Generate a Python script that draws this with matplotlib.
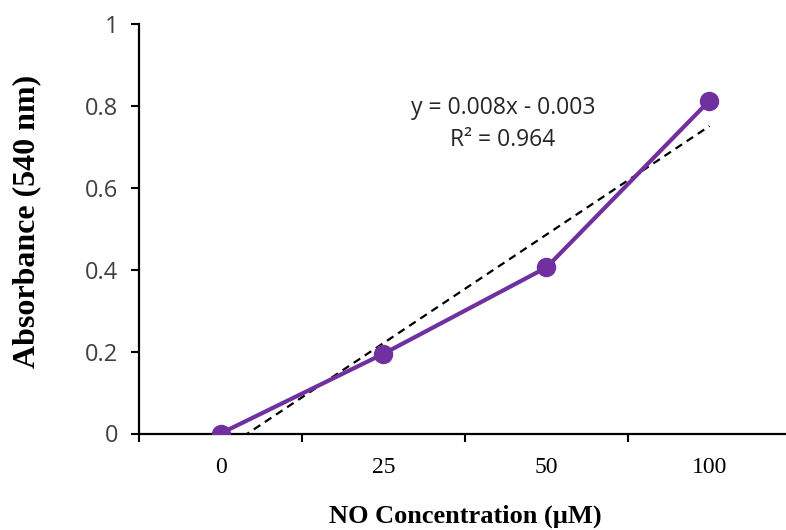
import numpy as np
import matplotlib
matplotlib.use('Agg')
import matplotlib.pyplot as plt

# data
conc_labels = ['0', '25', '50', '100']
absorbance = [0.0, 0.195, 0.406, 0.814]
eq_text = 'y = 0.008x - 0.003'
r2_text = 'R\u00b2 = 0.964'

purple = '#7030A0'
W, H = 786, 530

fig = plt.figure(figsize=(W / 100, H / 100), dpi=100)
ax = fig.add_axes([139 / W, 1 - 433.5 / H, (791 - 139) / W, (433.5 - 24.5) / H])

xpos = np.arange(1, len(conc_labels) + 1)

# linear trendline over category positions (like excel does for a line chart)
k, b = np.polyfit(xpos, absorbance, 1)
tx = np.array([xpos[0], xpos[-1]])
ax.plot(tx, k * tx + b, color='black', lw=1.6, ls=(0, (3.5, 2.5)), zorder=2)

ax.plot(xpos, absorbance, color=purple, lw=3, marker='o', ms=13, zorder=3)

ax.set_xlim(0.5, 4.5)
ax.set_ylim(0, 1)

ax.set_xticks(xpos)
ax.set_xticklabels(conc_labels, fontfamily='Liberation Serif', fontsize=17)
ax.set_xticks(np.arange(0.5, 4.6, 1), minor=True)
ax.tick_params(axis='x', which='major', length=0, pad=17)
ax.tick_params(axis='x', which='minor', length=6, width=1.5, direction='out', color='black')

ax.set_yticks([0, 0.2, 0.4, 0.6, 0.8, 1])
ax.set_yticklabels(['0', '0.2', '0.4', '0.6', '0.8', '1'], fontfamily='Open Sans', fontsize=17, color='#404040')
ax.tick_params(axis='y', length=6, width=1.5, pad=9, color='black')

for s in ['top', 'right']:
    ax.spines[s].set_visible(False)
for s in ['left', 'bottom']:
    ax.spines[s].set_linewidth(1.6)
    ax.spines[s].set_color('black')

ax.text(503 / W, 1 - 108 / H, eq_text, transform=fig.transFigure, ha='center', va='center',
        fontfamily='Open Sans', fontsize=16.5, color='#262626')
ax.text(503 / W, 1 - 140 / H, r2_text, transform=fig.transFigure, ha='center', va='center',
        fontfamily='Open Sans', fontsize=16.5, color='#262626')

fig.text(27 / W, 1 - 221 / H, 'Absorbance (540 nm)', rotation=90, ha='center', va='center',
         fontfamily='Liberation Serif', fontweight='bold', fontsize=23)
fig.text(465 / W, 1 - 516 / H, 'NO Concentration (\u00b5M)', ha='center', va='center',
         fontfamily='Liberation Serif', fontweight='bold', fontsize=19)

fig.savefig('out.png', dpi=100)
